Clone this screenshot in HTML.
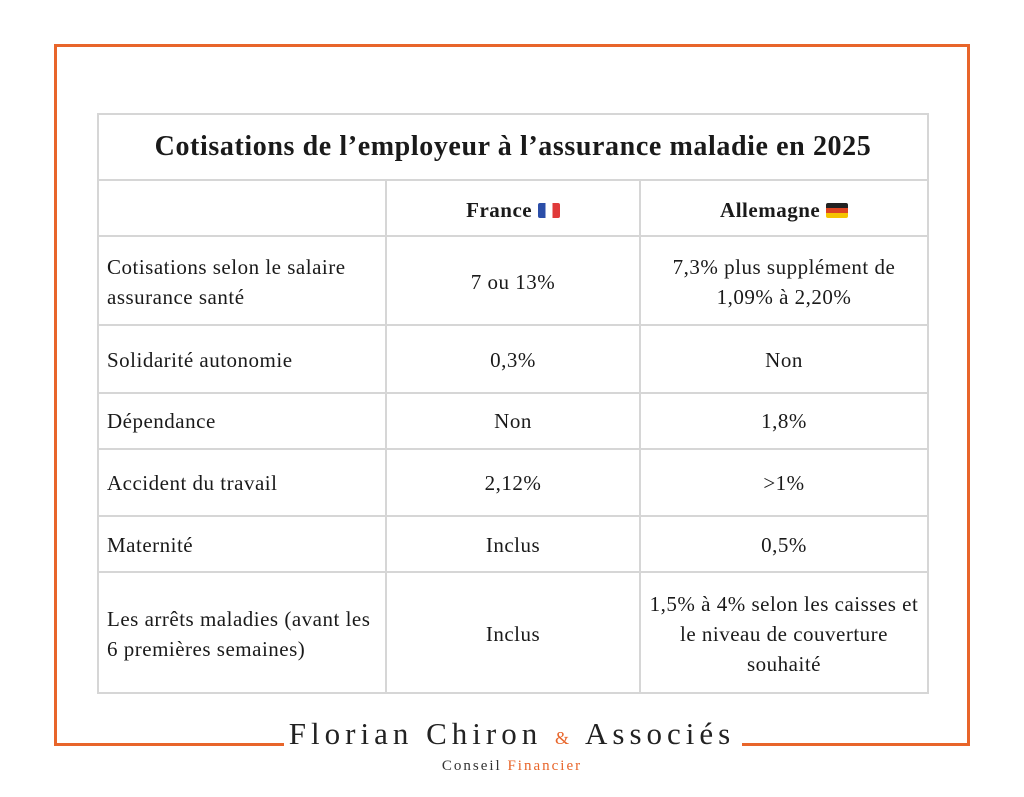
<!DOCTYPE html>
<html><head><meta charset="utf-8"><style>
body{margin:0;width:1024px;height:797px;background:#fff;position:relative;overflow:hidden;font-family:"Liberation Serif",serif;color:#1a1a1a}
.o{position:absolute;background:#e8652a}
.h{position:absolute;background:#d6d6d6;height:2px}
.v{position:absolute;background:#d6d6d6;width:2px}
.t{position:absolute;font-size:21px;line-height:30px;letter-spacing:0.5px}
.c{text-align:center}
</style></head><body>
<div class="o" style="left:54px;top:44px;width:916px;height:3px"></div>
<div class="o" style="left:54px;top:44px;width:3px;height:702px"></div>
<div class="o" style="left:967px;top:44px;width:3px;height:702px"></div>
<div class="o" style="left:54px;top:743px;width:230px;height:3px"></div>
<div class="o" style="left:742px;top:743px;width:228px;height:3px"></div>

<div class="h" style="left:97px;top:113px;width:832px"></div>
<div class="h" style="left:97px;top:179px;width:832px"></div>
<div class="h" style="left:97px;top:235px;width:832px"></div>
<div class="h" style="left:97px;top:324px;width:832px"></div>
<div class="h" style="left:97px;top:392px;width:832px"></div>
<div class="h" style="left:97px;top:448px;width:832px"></div>
<div class="h" style="left:97px;top:515px;width:832px"></div>
<div class="h" style="left:97px;top:571px;width:832px"></div>
<div class="h" style="left:97px;top:692px;width:832px"></div>
<div class="v" style="left:97px;top:113px;height:581px"></div>
<div class="v" style="left:927px;top:113px;height:581px"></div>
<div class="v" style="left:385px;top:179px;height:515px"></div>
<div class="v" style="left:639px;top:179px;height:515px"></div>

<div class="t c" style="left:97px;width:832px;top:132px;font-size:28px;letter-spacing:0.6px;font-weight:bold">Cotisations de l’employeur à l’assurance maladie en 2025</div>
<div class="t c" style="left:386px;width:254px;top:195px;font-weight:bold">France <span style="display:inline-block;width:22px;height:15px;vertical-align:-1px;background:linear-gradient(90deg,#2b4ea8 33%,#fff 33% 66%,#e03a3a 66%);border-radius:2px"></span></div>
<div class="t c" style="left:640px;width:288px;top:195px;font-weight:bold">Allemagne <span style="display:inline-block;width:22px;height:15px;vertical-align:-1px;background:linear-gradient(#222 33%,#d42 33% 66%,#f5c400 66%);border-radius:2px"></span></div>

<div class="t" style="left:107px;top:252px">Cotisations selon le salaire<br>assurance santé</div>
<div class="t c" style="left:386px;width:254px;top:267px">7 ou 13%</div>
<div class="t c" style="left:640px;width:288px;top:252px">7,3% plus supplément de<br>1,09% à 2,20%</div>

<div class="t" style="left:107px;top:345px">Solidarité autonomie</div>
<div class="t c" style="left:386px;width:254px;top:345px">0,3%</div>
<div class="t c" style="left:640px;width:288px;top:345px">Non</div>

<div class="t" style="left:107px;top:406px">Dépendance</div>
<div class="t c" style="left:386px;width:254px;top:406px">Non</div>
<div class="t c" style="left:640px;width:288px;top:406px">1,8%</div>

<div class="t" style="left:107px;top:468px">Accident du travail</div>
<div class="t c" style="left:386px;width:254px;top:468px">2,12%</div>
<div class="t c" style="left:640px;width:288px;top:468px">&gt;1%</div>

<div class="t" style="left:107px;top:530px">Maternité</div>
<div class="t c" style="left:386px;width:254px;top:530px">Inclus</div>
<div class="t c" style="left:640px;width:288px;top:530px">0,5%</div>

<div class="t" style="left:107px;top:604px">Les arrêts maladies (avant les<br>6 premières semaines)</div>
<div class="t c" style="left:386px;width:254px;top:619px">Inclus</div>
<div class="t c" style="left:640px;width:288px;top:589px">1,5% à 4% selon les caisses et<br>le niveau de couverture<br>souhaité</div>

<div style="position:absolute;left:0;width:1024px;top:714px;text-align:center;font-size:31px;letter-spacing:5px;color:#222;line-height:40px">Florian Chiron <span style="color:#e8652a;font-size:18px">&amp;</span> Associés</div>
<div style="position:absolute;left:0;width:1024px;top:756px;text-align:center;font-size:15px;letter-spacing:2px;color:#333;line-height:20px">Conseil <span style="color:#e8652a">Financier</span></div>
</body></html>
